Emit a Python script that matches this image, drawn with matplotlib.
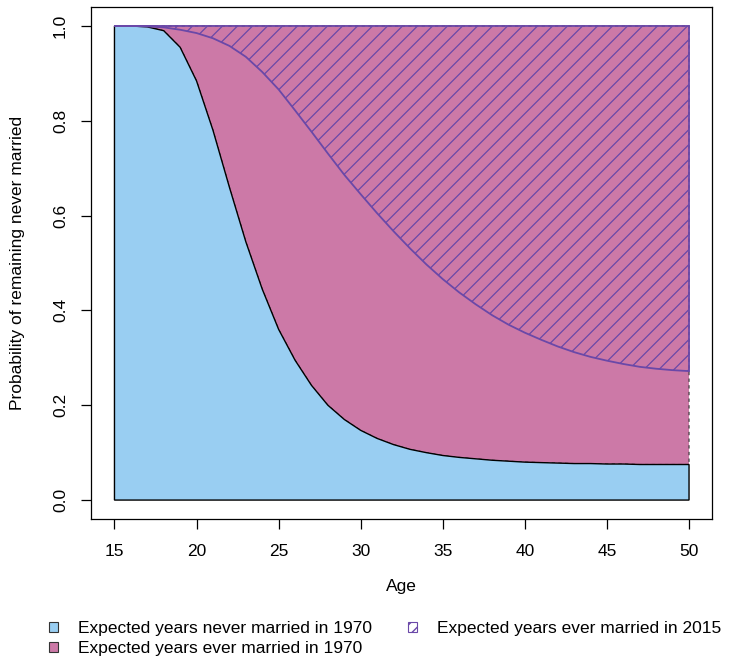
import numpy as np
import matplotlib
matplotlib.use("Agg")
import matplotlib.pyplot as plt
from matplotlib.patches import Polygon, Patch

plt.rcParams['font.family'] = ['Liberation Sans', 'DejaVu Sans']

# data
ages = list(range(15, 51))
never_1970 = [1.0, 1.0, 0.998, 0.99, 0.955, 0.884, 0.78, 0.66, 0.545, 0.445,
              0.36, 0.295, 0.242, 0.2, 0.17, 0.147, 0.13, 0.117, 0.107, 0.1,
              0.094, 0.09, 0.087, 0.084, 0.082, 0.08, 0.079, 0.078, 0.077, 0.077,
              0.076, 0.076, 0.075, 0.075, 0.075, 0.075]
never_2015 = [1.0, 1.0, 0.999, 0.997, 0.992, 0.985, 0.974, 0.958, 0.935, 0.903,
              0.866, 0.822, 0.777, 0.731, 0.686, 0.645, 0.605, 0.567, 0.531, 0.497,
              0.466, 0.438, 0.413, 0.39, 0.37, 0.353, 0.338, 0.324, 0.312, 0.302,
              0.294, 0.287, 0.281, 0.277, 0.274, 0.272]
legend_labels = ["Expected years never married in 1970",
                 "Expected years ever married in 1970",
                 "Expected years ever married in 2015"]

blue = "#99CEF2"
pink = "#CC79A7"
purple = "#6A48A8"
fs = 12.5

fig = plt.figure(figsize=(7.29, 6.59), dpi=100)
ax = fig.add_axes([0.1255, 0.2124, 0.8512, 0.777])
ax.set_xlim(13.6, 51.4)
ax.set_ylim(-0.04, 1.04)

x = np.array(ages, dtype=float)
y70 = np.array(never_1970)
y15 = np.array(never_2015)

# pink: above 1970 curve up to 1
pink_poly = np.vstack([np.column_stack([x, y70]), [[50, 1.0], [15, 1.0]]])
ax.add_patch(Polygon(pink_poly, closed=True, facecolor=pink, edgecolor="#333333",
                     lw=0.8, ls=(0, (3, 3)), zorder=1))

# blue: under 1970 curve
blue_poly = np.vstack([[[15, 0.0]], np.column_stack([x, y70]), [[50, 0.0]]])
ax.add_patch(Polygon(blue_poly, closed=True, facecolor=blue, edgecolor="black",
                     lw=1.0, zorder=2))

# hatched: above 2015 curve
hatch_poly = np.vstack([np.column_stack([x, y15]), [[50, 1.0], [15, 1.0]]])
hp = Polygon(hatch_poly, closed=True, facecolor="none", edgecolor=purple,
             lw=1.3, zorder=4)
ax.add_patch(hp)

# hatch lines at 45 degrees in pixel space, clipped to the polygon
fig.canvas.draw()
T = ax.transData
inv = T.inverted()
(x0, y0), (x1, y1) = T.transform([(13.6, -0.04), (51.4, 1.04)])
spacing = 15.0
h = y1 - y0
c = x0 - h
while c < x1:
    pts = inv.transform([(c, y0), (c + h, y1)])
    ln, = ax.plot(pts[:, 0], pts[:, 1], color=purple, lw=0.9, zorder=3)
    ln.set_clip_path(hp)
    c += spacing

ax.set_xticks(range(15, 51, 5))
ax.set_yticks([0.0, 0.2, 0.4, 0.6, 0.8, 1.0])
ax.set_yticklabels(["0.0", "0.2", "0.4", "0.6", "0.8", "1.0"], rotation=90, va="center")
ax.tick_params(axis="both", direction="out", length=7, width=0.9, labelsize=fs)
ax.tick_params(axis="x", pad=11)
ax.tick_params(axis="y", pad=10)
for s in ax.spines.values():
    s.set_linewidth(0.9)

ax.set_xlabel("Age", fontsize=fs)
ax.xaxis.set_label_coords(0.5, -0.132)
ax.xaxis.label.set_va("center")
ax.set_ylabel("Probability of remaining never married", fontsize=fs)
ax.yaxis.set_label_coords(-0.12, 0.5)
ax.yaxis.label.set_va("center")

handles = [Patch(facecolor=blue, edgecolor="#333333", lw=0.8),
           Patch(facecolor=pink, edgecolor="#333333", lw=0.8),
           Patch(facecolor="white", edgecolor=purple, hatch="///", lw=0.8)]
fig.legend(handles, legend_labels, loc="upper left", bbox_to_anchor=(0.055, 0.0706),
           ncol=2, frameon=False, fontsize=fs, handlelength=0.55, handleheight=0.55,
           handletextpad=1.15, columnspacing=2.05, labelspacing=0.3, borderpad=0)

fig.savefig("out.png", dpi=100)
